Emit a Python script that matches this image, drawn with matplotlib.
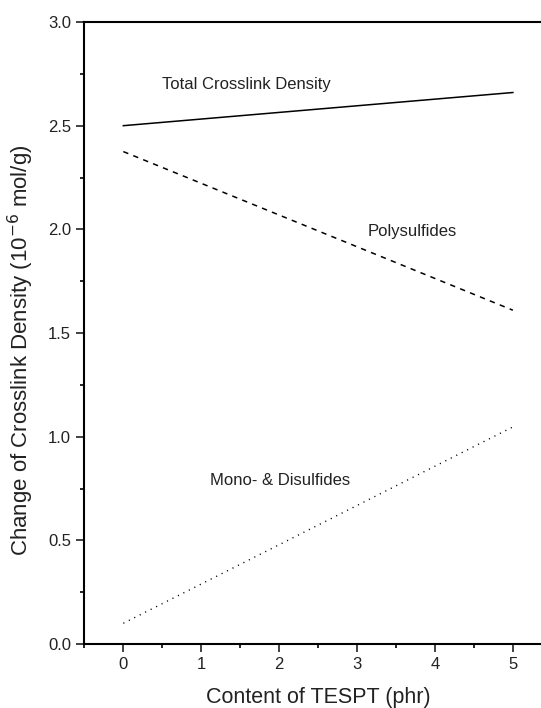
import matplotlib
matplotlib.use('Agg')
import matplotlib.pyplot as plt
from matplotlib.ticker import MultipleLocator

plt.rcParams['font.family'] = ['Liberation Sans', 'DejaVu Sans']

# TESPT content (phr)
tespt = [0, 5]

# crosslink density, 10^-6 mol/g
total_density = [2.50, 2.66]
polysulfides = [2.375, 1.61]
mono_disulfides = [0.10, 1.047]

fig = plt.figure(figsize=(5.41, 7.08), dpi=100)
ax = fig.add_axes([0.156, 0.0904, 0.864, 0.8785])

ax.plot(tespt, total_density, color='black', linewidth=1.1)
ax.plot(tespt, polysulfides, color='black', linewidth=1.1, linestyle=(0, (3.5, 3.5)))
ax.plot(tespt, mono_disulfides, color='black', linewidth=1.0, linestyle=(0, (0.8, 3.6)))

ax.text(0.49, 2.70, 'Total Crosslink Density', fontsize=12, va='center', ha='left', color='#222222')
ax.text(3.13, 1.99, 'Polysulfides', fontsize=12, va='center', ha='left', color='#222222')
ax.text(1.11, 0.79, 'Mono- & Disulfides', fontsize=12, va='center', ha='left', color='#222222')

ax.set_xlim(-0.5, 5.5)
ax.set_ylim(0, 3.0)
ax.xaxis.set_major_locator(MultipleLocator(1))
ax.xaxis.set_minor_locator(MultipleLocator(0.5))
ax.yaxis.set_major_locator(MultipleLocator(0.5))
ax.yaxis.set_minor_locator(MultipleLocator(0.25))
ax.yaxis.set_major_formatter(plt.FormatStrFormatter('%.1f'))

ax.tick_params(which='major', direction='out', length=6, width=1.2, labelsize=12, colors='#222222')
ax.tick_params(which='minor', direction='out', length=3, width=1.2)
for side in ['left', 'bottom', 'top', 'right']:
    ax.spines[side].set_linewidth(1.5)
ax.tick_params(top=False, right=False)

ax.set_xlabel('Content of TESPT (phr)', fontsize=15.5, color='#222222')
ax.set_ylabel('Change of Crosslink Density (10$^{-6}$ mol/g)', fontsize=16, color='#222222')
ax.xaxis.set_label_coords(0.5, -0.069)
ax.yaxis.set_label_coords(-0.104, 0.473)

fig.savefig('out.png', dpi=100, facecolor='white')
